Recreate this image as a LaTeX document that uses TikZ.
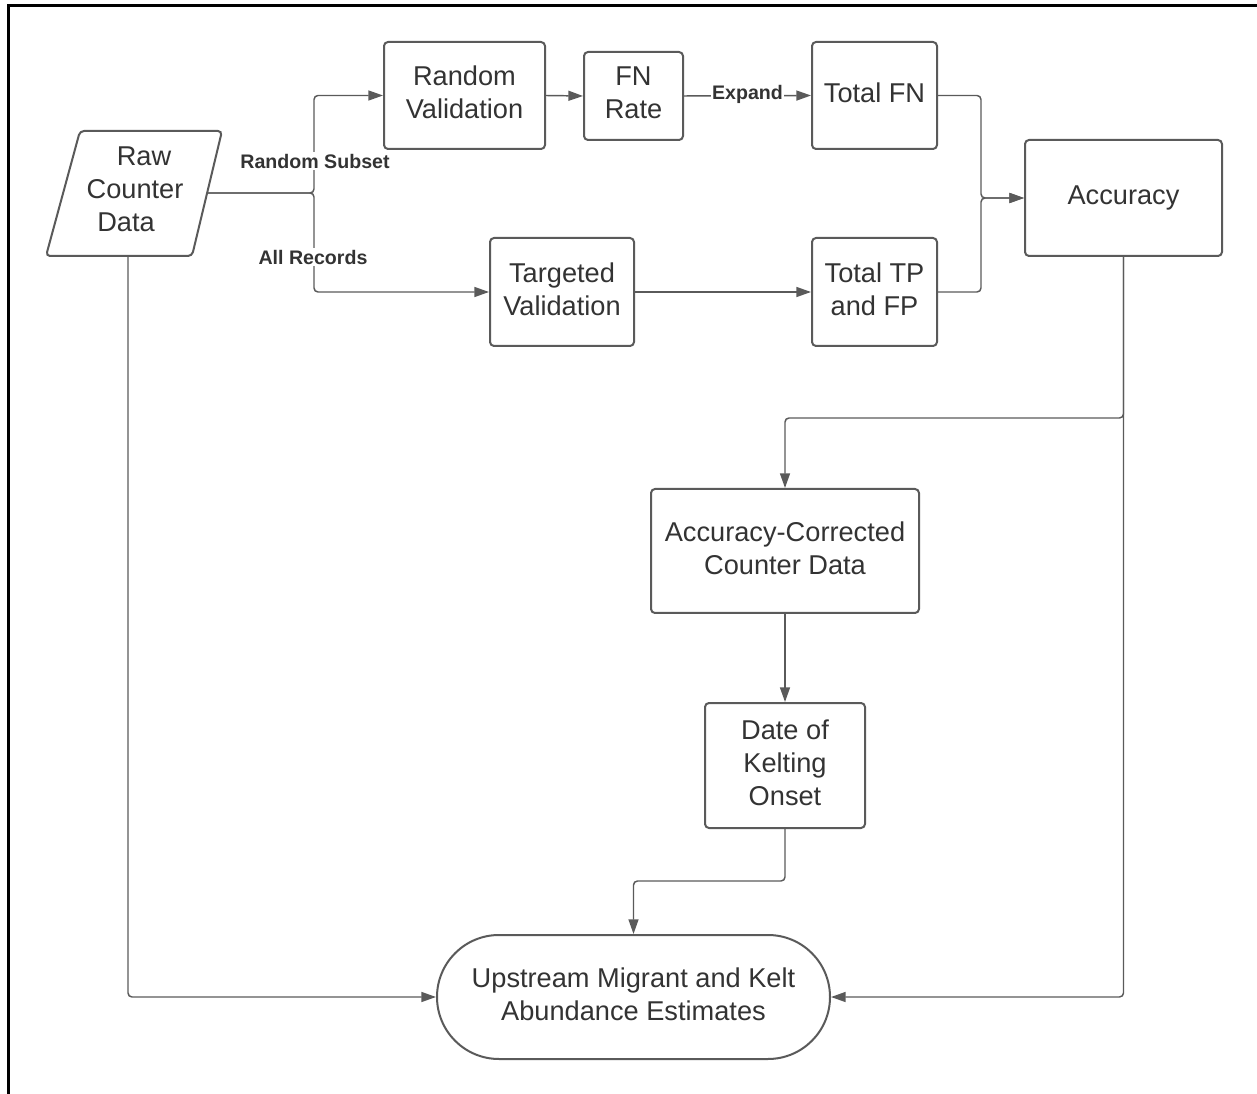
\documentclass[tikz,border=0pt]{standalone}
\usepackage{fontspec}
\setmainfont{Liberation Sans}
\usetikzlibrary{arrows.meta}
\definecolor{boxline}{RGB}{90,90,90}
\definecolor{txtclr}{RGB}{51,51,51}
\tikzset{
  procbox/.style={draw=boxline, line width=1.5pt, rounded corners=3pt, fill=white, text=txtclr, align=center, inner sep=0pt, text depth=5pt, font=\fontsize{20.4}{24.75}\selectfont},
  conn/.style={draw=boxline, line width=1.1pt, rounded corners=3pt, -{Triangle[length=11pt,width=7.5pt]}},
  edgelabel/.style={fill=white, text=txtclr, inner sep=1pt, font=\fontsize{14.7}{17}\selectfont\bfseries},
}
\begin{document}
\begin{tikzpicture}[x=0.75pt,y=0.75pt,yscale=-1,xscale=1]
        \useasboundingbox (0,0) rectangle (1257,1094);
        %Frame
        \draw [line width=2.25pt] (8,1094) -- (8,6) -- (1257,6) ;

        %Shape: Parallelogram
        \draw [draw=boxline, line width=1.5pt, rounded corners=3pt, fill=white] (80,131) -- (222,131) -- (192,256) -- (46,256) -- cycle ;
        \coordinate (raw-e) at (207,193);
        \coordinate (raw-s) at (128,256);
        % Text Node
        \node (raw) at (135,189) [text=txtclr, align=center, inner sep=0pt, font=\fontsize{20.4}{24.75}\selectfont] {\hspace*{13.5pt}Raw\\Counter\\Data\hspace*{13.5pt}};

        %Shape: Rectangle
        \node (rv) at (464.5,95.5) [procbox, minimum width=120.75pt, minimum height=80.25pt] {Random\\Validation};
        %Shape: Rectangle
        \node (fn) at (633.5,96) [procbox, minimum width=74.25pt, minimum height=66pt] {FN\\Rate};
        %Shape: Rectangle
        \node (tfn) at (874.5,95.5) [procbox, minimum width=93.75pt, minimum height=80.25pt] {Total FN};
        %Shape: Rectangle
        \node (tv) at (562,292) [procbox, minimum width=108pt, minimum height=81pt] {Targeted\\Validation};
        %Shape: Rectangle
        \node (ttp) at (874.5,292) [procbox, minimum width=93.75pt, minimum height=81pt] {Total TP\\and FP};
        %Shape: Rectangle
        \node (acc) at (1123.5,198) [procbox, minimum width=147.75pt, minimum height=87pt] {Accuracy};
        %Shape: Rectangle
        \node (acd) at (785,551) [procbox, minimum width=201pt, minimum height=93pt] {Accuracy-Corrected\\Counter Data};
        %Shape: Rectangle
        \node (date) at (785,765.5) [procbox, minimum width=120pt, minimum height=93.75pt] {Date of\\Kelting\\Onset};
        %Shape: Stadium
        \node (ue) at (633.5,997) [procbox, rounded corners=46.5pt, minimum width=294.75pt, minimum height=93pt] {Upstream Migrant and Kelt\\Abundance Estimates};

        %Straight Lines
        \draw [conn] (raw-e) -- (314,193) |- (rv.west) ;
        \draw [conn] (raw-e) -- (314,193) |- (tv.west) ;
        \draw [conn] (rv.east) -- (fn.west) ;
        \draw [conn] (fn.east) -- (tfn.west) ;
        \draw [conn] (tv.east) -- (ttp.west) ;
        \draw [conn] (tfn.east) -- (981,95.5) |- (acc.west) ;
        \draw [conn] (ttp.east) -- (981,292) |- (acc.west) ;
        \draw [conn] (acc.south) |- (ue.east) ;
        \draw [conn] (acc.south) -- (1123.5,418) -| (acd.north) ;
        \draw [conn] (acd.south) -- (date.north) ;
        \draw [conn] (date.south) -- (785,881) -| (ue.north) ;
        \draw [conn] (raw-s) |- (ue.west) ;

        % Text Node
        \node (lbl-rs) at (315,161) [edgelabel] {Random Subset};
        % Text Node
        \node (lbl-ar) at (313,257) [edgelabel] {All Records};
        % Text Node
        \node (lbl-ex) at (747.5,94) [edgelabel, inner sep=0.5pt] {Expand};

\end{tikzpicture}
\end{document}
